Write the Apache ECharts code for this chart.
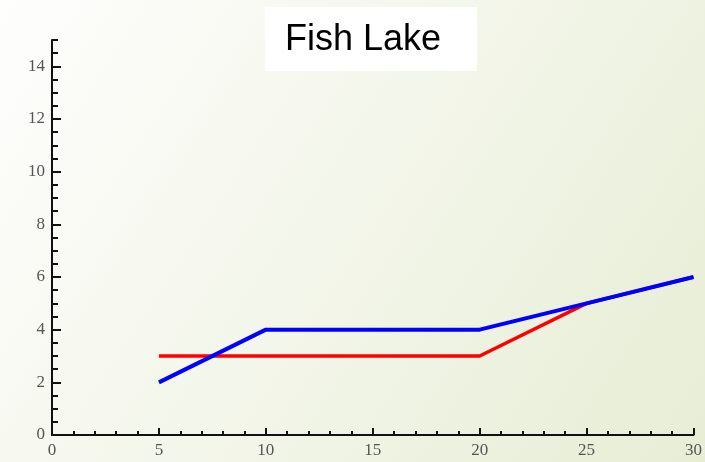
<!DOCTYPE html>
<html>
<head>
<meta charset="utf-8">
<script src="https://cdn.jsdelivr.net/npm/echarts@6/dist/echarts.min.js"></script>
<style>
html,body{margin:0;padding:0;}
#c{width:705px;height:462px;}
</style>
</head>
<body>
<div id="c"></div>
<script>
var titleText = 'Fish Lake';
var xValues = [5, 10, 20, 25, 30];
var redValues = [3, 3, 3, 5, 6];
var blueValues = [2, 4, 4, 5, 6];
var yMajorTicks = [0, 2, 4, 6, 8, 10, 12, 14];
var yMinorTicks = [];
for (var v = 0; v <= 15; v += 0.5) { if (v % 2 !== 0) yMinorTicks.push(v); }

function pairs(xs, ys) { return xs.map(function (x, i) { return [x, ys[i]]; }); }

var chart = echarts.init(document.getElementById('c'));
var labelStyle = { color: '#555', fontFamily: 'Liberation Serif', fontSize: 17 };
chart.setOption({
  animation: false,
  backgroundColor: {
    type: 'linear', x: 0, y: 0, x2: 1, y2: 1,
    colorStops: [{ offset: 0, color: '#fefefd' }, { offset: 1, color: '#e7edd5' }]
  },
  grid: { left: 52, right: 11, top: 40, bottom: 27 },
  graphic: [
    { type: 'rect', shape: { x: 265, y: 7, width: 212, height: 64 }, style: { fill: '#ffffff' }, z: 10 },
    { type: 'text', x: 285, y: 40, style: { text: titleText, fill: '#000', font: '36px "Liberation Sans", Arial', verticalAlign: 'middle', align: 'left' }, z: 11 }
  ],
  xAxis: {
    type: 'value', min: 0, max: 30, interval: 5,
    axisLine: { show: true, lineStyle: { color: '#111', width: 2 } },
    axisTick: { show: true, inside: true, length: 7, lineStyle: { color: '#111', width: 2 } },
    minorTick: { show: true, splitNumber: 5, length: 4, lineStyle: { color: '#111', width: 2 } },
    splitLine: { show: false },
    axisLabel: Object.assign({ margin: 7 }, labelStyle)
  },
  yAxis: [
    {
      type: 'value', min: 0, max: 15,
      axisLine: { show: true, lineStyle: { color: '#111', width: 2 } },
      axisTick: { show: true, inside: true, length: 9, customValues: yMajorTicks, lineStyle: { color: '#111', width: 2 } },
      splitLine: { show: false },
      axisLabel: Object.assign({ margin: 7, customValues: yMajorTicks }, labelStyle)
    },
    {
      type: 'value', min: 0, max: 15, position: 'left',
      axisLine: { show: false },
      axisTick: { show: true, inside: true, length: 6, customValues: yMinorTicks, lineStyle: { color: '#111', width: 2 } },
      splitLine: { show: false },
      axisLabel: { show: false }
    }
  ],
  series: [
    { type: 'line', data: pairs(xValues, redValues), showSymbol: false, lineStyle: { color: '#ff0000', width: 3.5 }, z: 2 },
    { type: 'line', data: pairs(xValues, blueValues), showSymbol: false, lineStyle: { color: '#0000ff', width: 4 }, z: 3 }
  ]
});
</script>
</body>
</html>
